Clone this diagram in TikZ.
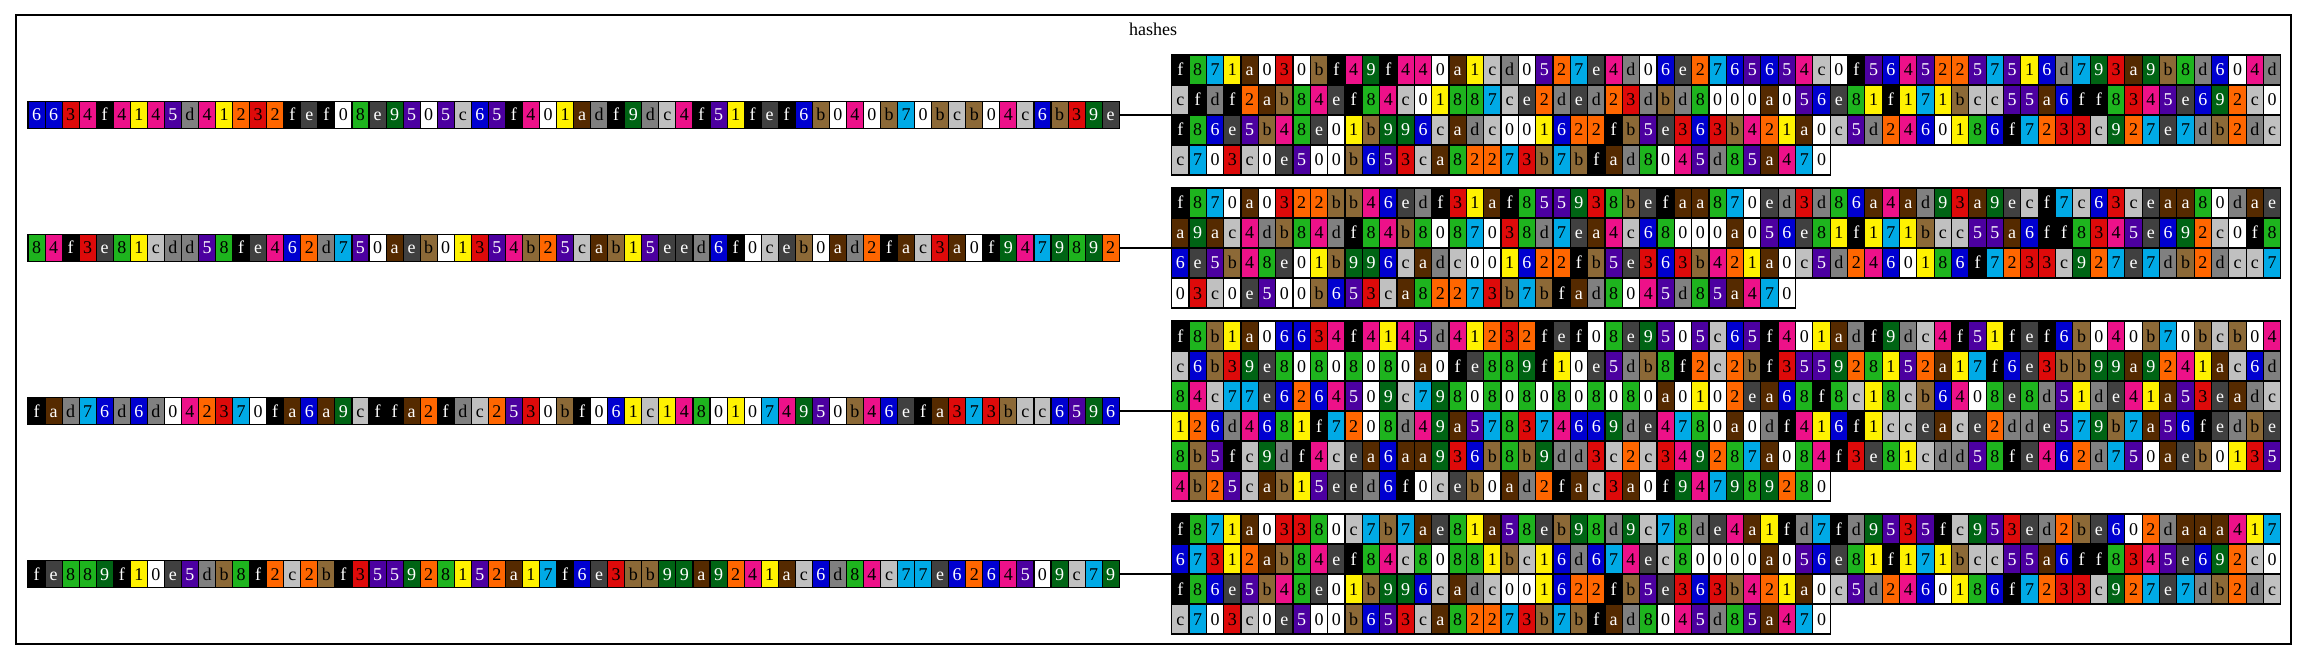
\documentclass[tikz,border=0pt]{standalone}
\usepackage{fontspec}
\setmainfont{Liberation Serif}
\usepackage{xcolor}
\usepackage{tikz}
\usetikzlibrary{positioning, calc}

% one colour per hex digit
\definecolor{hex0}{RGB}{255,255,255}
\definecolor{hex1}{RGB}{255,242,0}
\definecolor{hex2}{RGB}{255,102,0}
\definecolor{hex3}{RGB}{222,10,10}
\definecolor{hex4}{RGB}{237,17,137}
\definecolor{hex5}{RGB}{76,0,160}
\definecolor{hex6}{RGB}{0,0,208}
\definecolor{hex7}{RGB}{0,170,230}
\definecolor{hex8}{RGB}{30,180,30}
\definecolor{hex9}{RGB}{0,100,20}
\definecolor{hexa}{RGB}{85,42,0}
\definecolor{hexb}{RGB}{140,105,55}
\definecolor{hexc}{RGB}{192,192,192}
\definecolor{hexd}{RGB}{128,128,128}
\definecolor{hexe}{RGB}{64,64,64}
\definecolor{hexf}{RGB}{0,0,0}

\tikzset{
  cell/.style={draw=black, line width=1.1pt, inner sep=0pt, minimum width=\cw pt, minimum height=\ch pt,
    text height=12pt, text depth=0pt, font=\fontsize{18}{18}\selectfont},
  hx0/.style={fill=hex0, text=black}, hx1/.style={fill=hex1, text=black},
  hx2/.style={fill=hex2, text=black}, hx3/.style={fill=hex3, text=black},
  hx4/.style={fill=hex4, text=black}, hx5/.style={fill=hex5, text=white},
  hx6/.style={fill=hex6, text=white}, hx7/.style={fill=hex7, text=black},
  hx8/.style={fill=hex8, text=black}, hx9/.style={fill=hex9, text=white},
  hxa/.style={fill=hexa, text=white}, hxb/.style={fill=hexb, text=black},
  hxc/.style={fill=hexc, text=black}, hxd/.style={fill=hexd, text=black},
  hxe/.style={fill=hexe, text=white}, hxf/.style={fill=hexf, text=white},
  anchorbox/.style={inner sep=0pt, minimum height=#1},
  link/.style={line width=1.2pt},
}

% a row of coloured digit cells: name prefix, left edge x, centre y, digits
\newcount\cellno
\newcommand{\hexrow}[4]{%
  \def\rowpre{#1}%
  \pgfmathsetmacro{\rowx}{#2+\cw/2}%
  \def\rowy{#3}%
  \hexnext#4\relax}
\newcommand{\hexnext}[1]{%
  \ifx#1\relax\else
    \global\advance\cellno by 1
    \node[cell, hx#1] (\rowpre\the\cellno) at (\rowx,\rowy) {#1};
    \pgfmathsetmacro{\rowx}{\rowx+\cw}%
    \expandafter\hexnext
  \fi}

\begin{document}
\begin{tikzpicture}[x=1pt, y=-1pt]
    \useasboundingbox (0,0) rectangle (2307,660);

    % Cluster frame
    \draw[line width=1.2pt] (16,15) rectangle (2291,644);
    \node[font=\fontsize{18}{18}\selectfont] (title) at (1153,29) {hashes};

    % Hashes (left column)
    \def\cw{17.05}\def\ch{27}
    \hexrow{ha-}{28}{115}{6634f4145d41232fef08e9505c65f401adf9dc4f51fef6b040b70bcb04c6b39e}
    \hexrow{hb-}{28}{248}{84f3e81cdd58fe462d750aeb01354b25cab15eed6f0ceb0ad2fac3a0f9479892}
    \hexrow{hc-}{28}{411}{fad76d6d042370fa6a9cffa2fdc2530bf061c14801074950b46efa373bcc6596}
    \hexrow{hd-}{28}{574}{fe889f10e5db8f2c2bf355928152a17f6e3bb99a9241ac6d84c77e6264509c79}
    \node[anchorbox=27pt, minimum width=1091.2pt] (hash1) at (573.6,115) {};
    \node[anchorbox=27pt, minimum width=1091.2pt] (hash2) at (573.6,248) {};
    \node[anchorbox=27pt, minimum width=1091.2pt] (hash3) at (573.6,411) {};
    \node[anchorbox=27pt, minimum width=1091.2pt] (hash4) at (573.6,574) {};

    % Data blocks (right column)
    \def\cw{17.33}\def\ch{30}
    \hexrow{da-}{1171.7}{70}{f871a030bf49f440a1cd0527e4d06e2765654c0f56452257516d793a9b8d604d}
    \hexrow{da-}{1171.7}{100}{cfdf2ab84ef84c01887ce2ded23dbd8000a056e81f171bcc55a6ff8345e692c0}
    \hexrow{da-}{1171.7}{130}{f86e5b48e01b996cadc001622fb5e363b421a0c5d2460186f7233c927e7db2dc}
    \hexrow{da-}{1171.7}{160}{c703c0e500b653ca82273b7bfad8045d85a470}

    \hexrow{db-}{1171.7}{203}{f870a0322bb46edf31af855938befaa870ed3d86a4ad93a9ecf7c63ceaa80dae}
    \hexrow{db-}{1171.7}{233}{a9ac4db84df84b8087038d7ea4c68000a056e81f171bcc55a6ff8345e692c0f8}
    \hexrow{db-}{1171.7}{263}{6e5b48e01b996cadc001622fb5e363b421a0c5d2460186f7233c927e7db2dcc7}
    \hexrow{db-}{1171.7}{293}{03c0e500b653ca82273b7bfad8045d85a470}

    \hexrow{dc-}{1171.7}{336}{f8b1a06634f4145d41232fef08e9505c65f401adf9dc4f51fef6b040b70bcb04}
    \hexrow{dc-}{1171.7}{366}{c6b39e80808080a0fe889f10e5db8f2c2bf355928152a17f6e3bb99a9241ac6d}
    \hexrow{dc-}{1171.7}{396}{84c77e6264509c79808080808080a0102ea68f8c18cb6408e8d51de41a53eadc}
    \hexrow{dc-}{1171.7}{426}{126d4681f7208d49a578374669de4780a0df416f1cceace2dde579b7a56fedbe}
    \hexrow{dc-}{1171.7}{456}{8b5fc9df4cea6aa936b8b9dd3c2c349287a084f3e81cdd58fe462d750aeb0135}
    \hexrow{dc-}{1171.7}{486}{4b25cab15eed6f0ceb0ad2fac3a0f947989280}

    \hexrow{dd-}{1171.7}{529}{f871a03380c7b7ae81a58eb98d9c78de4a1fd7fd9535fc953ed2be602daaa417}
    \hexrow{dd-}{1171.7}{559}{67312ab84ef84c80881bc16d674ec80000a056e81f171bcc55a6ff8345e692c0}
    \hexrow{dd-}{1171.7}{589}{f86e5b48e01b996cadc001622fb5e363b421a0c5d2460186f7233c927e7db2dc}
    \hexrow{dd-}{1171.7}{619}{c703c0e500b653ca82273b7bfad8045d85a470}

    \node[anchorbox=120pt, minimum width=1109.1pt] (data1) at (1726.2,115) {};
    \node[anchorbox=120pt, minimum width=1109.1pt] (data2) at (1726.2,248) {};
    \node[anchorbox=180pt, minimum width=1109.1pt] (data3) at (1726.2,411) {};
    \node[anchorbox=120pt, minimum width=1109.1pt] (data4) at (1726.2,574) {};

    % Links
    \draw[link] (hash1.east) -- (data1.west);
    \draw[link] (hash2.east) -- (data2.west);
    \draw[link] (hash3.east) -- (data3.west);
    \draw[link] (hash4.east) -- (data4.west);

\end{tikzpicture}
\end{document}
